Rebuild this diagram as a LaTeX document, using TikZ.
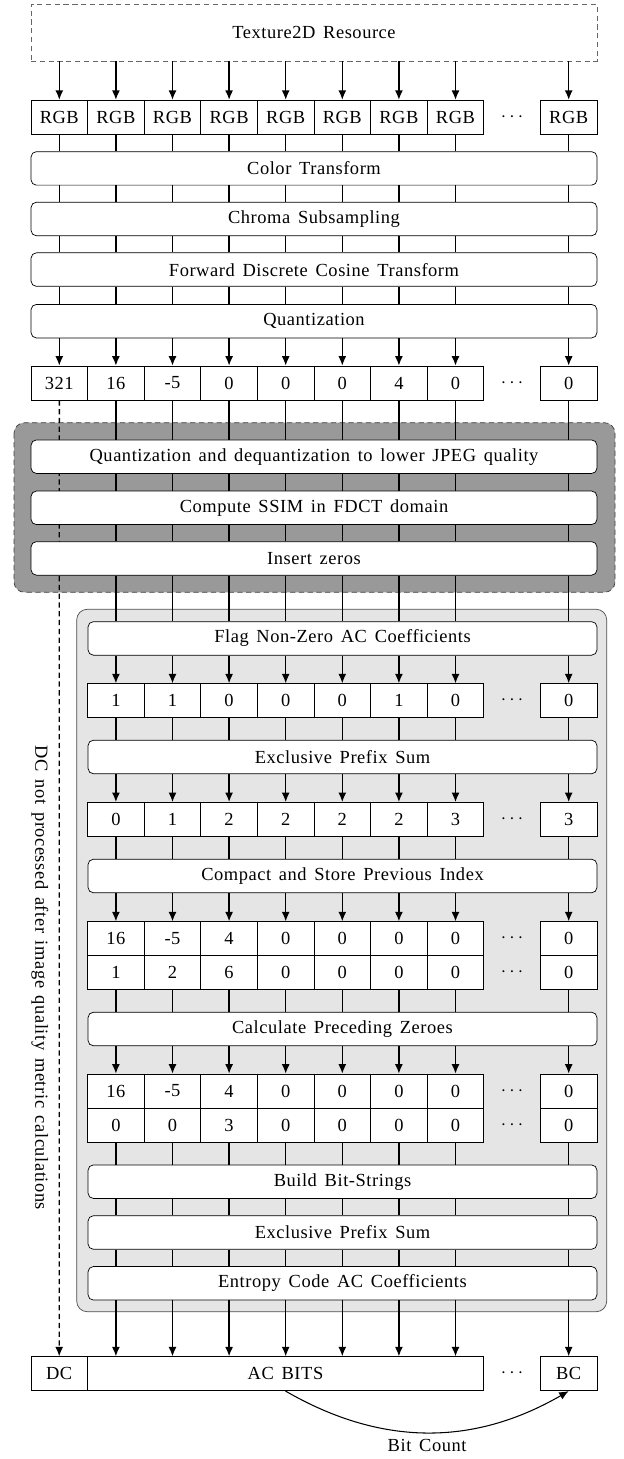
\documentclass[tikz,border=0pt]{standalone}
\usepackage{fontspec}
\setmainfont{Liberation Serif}[LetterSpace=3, WordSpace=1.5]
\usetikzlibrary{arrows.meta,backgrounds}

\begin{document}
\begin{tikzpicture}[x=0.02cm, y=-0.02cm, font=\fontsize{10.5}{12.6}\selectfont,
    cell/.style={draw, fill=white, minimum width=1.132cm, minimum height=0.68cm, inner sep=0pt},
    stage/.style={draw, fill=white, rounded corners=3pt, minimum height=0.67cm, inner sep=0pt},
    wide/.style={stage, minimum width=11.32cm},
    inner/.style={stage, minimum width=10.18cm},
    wire/.style={thick},
    flow/.style={thick, -{Latex[length=1.9mm, width=1.6mm]}}]
  \useasboundingbox (0,0) rectangle (623,1459);

  % source and first cells
  \node[draw=black!60, dash pattern=on 3pt off 2pt, minimum width=11.32cm, minimum height=1.134cm] (tex) at (314,32.7) {Texture2D Resource};
  \foreach \v [count=\i from 0] in {RGB,RGB,RGB,RGB,RGB,RGB,RGB,RGB}
    \node[cell] (rgb\i) at ({31+56.6*(\i+.5)},117.2) {\v};
  \node (rgbdots) at (512,117.2) {$\cdots$};
  \node[cell] (rgb9) at (568.7,117.2) {RGB};

  \node[wide] (colortf) at (314,168.4) {Color Transform};
  \node[wide] (chroma) at (314,219) {Chroma Subsampling};
  \node[wide] (fdct) at (314,269.6) {Forward Discrete Cosine Transform};
  \node[wide] (quant) at (314,321.2) {Quantization};

  \foreach \v [count=\i from 0] in {321,16,-5,0,0,0,4,0}
    \node[cell] (val\i) at ({31+56.6*(\i+.5)},383) {\v};
  \node (valdots) at (512,383) {$\cdots$};
  \node[cell] (val9) at (568.7,383) {0};

  % image quality part
  \node[wide] (qdq) at (314,456.7) {Quantization and dequantization to lower JPEG quality};
  \node[wide] (ssim) at (314,507.8) {Compute SSIM in FDCT domain};
  \node[wide] (zeros) at (314,558.4) {Insert zeros};

  % AC coding part
  \node[inner] (flagnz) at (342.5,638.4) {Flag Non-Zero AC Coefficients};
  \foreach \v [count=\i] in {1,1,0,0,0,1,0}
    \node[cell] (flag\i) at ({31+56.6*(\i+.5)},700.7) {\v};
  \node (flagdots) at (512,700.7) {$\cdots$};
  \node[cell] (flag9) at (568.7,700.7) {0};

  \node[inner] (prefix) at (342.5,757) {Exclusive Prefix Sum};
  \foreach \v [count=\i] in {0,1,2,2,2,2,3}
    \node[cell] (psum\i) at ({31+56.6*(\i+.5)},819.4) {\v};
  \node (psumdots) at (512,819.4) {$\cdots$};
  \node[cell] (psum9) at (568.7,819.4) {3};

  \node[inner] (compact) at (342.5,876) {Compact and Store Previous Index};
  \foreach \v [count=\i] in {16,-5,4,0,0,0,0}
    \node[cell] (cmpa\i) at ({31+56.6*(\i+.5)},938.7) {\v};
  \foreach \v [count=\i] in {1,2,6,0,0,0,0}
    \node[cell] (cmpb\i) at ({31+56.6*(\i+.5)},972.7) {\v};
  \node (cmpadots) at (512,938.7) {$\cdots$};
  \node (cmpbdots) at (512,972.7) {$\cdots$};
  \node[cell] (cmpa9) at (568.7,938.7) {0};
  \node[cell] (cmpb9) at (568.7,972.7) {0};

  \node[inner] (preczero) at (342.5,1029) {Calculate Preceding Zeroes};
  \foreach \v [count=\i] in {16,-5,4,0,0,0,0}
    \node[cell] (zera\i) at ({31+56.6*(\i+.5)},1091) {\v};
  \foreach \v [count=\i] in {0,0,3,0,0,0,0}
    \node[cell] (zerb\i) at ({31+56.6*(\i+.5)},1125) {\v};
  \node (zeradots) at (512,1091) {$\cdots$};
  \node (zerbdots) at (512,1125) {$\cdots$};
  \node[cell] (zera9) at (568.7,1091) {0};
  \node[cell] (zerb9) at (568.7,1125) {0};

  \node[inner] (bitstr) at (342.5,1181.7) {Build Bit-Strings};
  \node[inner] (prefixb) at (342.5,1232.5) {Exclusive Prefix Sum};
  \node[inner] (entropy) at (342.5,1283.3) {Entropy Code AC Coefficients};

  % output
  \node[cell] (dc) at (59.2,1373.7) {DC};
  \node[cell, minimum width=7.93cm] (acbits) at (285.5,1373.7) {AC BITS};
  \node (outdots) at (512,1373.7) {$\cdots$};
  \node[cell] (bc) at (568.7,1373.7) {BC};

  \node[rotate=-90] (dcnote) at (40,978) {DC not processed after image quality metric calculations};

  % connectors
  \foreach \i in {0,...,7,9} {
    \draw[flow] (tex.south -| rgb\i) -- (rgb\i);
    \draw[wire] (rgb\i) -- (colortf.north -| rgb\i);
    \draw[flow] (quant.south -| val\i) -- (val\i);
  }
  \foreach \src/\dst in {colortf/chroma, chroma/fdct, fdct/quant}
    \foreach \i in {0,...,7,9}
      \draw[wire] (\src.south -| rgb\i) -- (\dst.north -| rgb\i);
  \foreach \i in {1,...,7,9}
    \draw[wire] (val\i) -- (qdq.north -| val\i);
  \foreach \src/\dst in {qdq/ssim, ssim/zeros, zeros/flagnz, bitstr/prefixb, prefixb/entropy}
    \foreach \i in {1,...,7,9}
      \draw[wire] (\src.south -| rgb\i) -- (\dst.north -| rgb\i);
  \foreach \src/\dst in {flag/prefix, psum/compact, cmpb/preczero, zerb/bitstr}
    \foreach \i in {1,...,7,9}
      \draw[wire] (\src\i) -- (\dst.north -| \src\i);
  \foreach \src/\dst in {flagnz/flag, prefix/psum, compact/cmpa, preczero/zera}
    \foreach \i in {1,...,7,9}
      \draw[flow] (\src.south -| \dst\i) -- (\dst\i);
  \foreach \i in {1,...,7}
    \draw[flow] (entropy.south -| rgb\i) -- (acbits.north -| rgb\i);
  \draw[flow] (entropy.south -| bc) -- (bc);
  \draw[semithick, -{Latex[length=1.9mm, width=1.6mm]}] (acbits.south) to[bend right] node[below] (bitcount) {Bit Count} (bc.south);

  \begin{scope}[on background layer]
    \draw[black!75, dash pattern=on 3pt off 2pt, fill=black!40, rounded corners=6pt] (14,422.7) rectangle (615,592.3);
    \draw[black!70, fill=black!10, rounded corners=6pt] (76.7,609.3) rectangle (606.7,1311.7);
    \draw[thick, dash pattern=on 3pt off 2pt, -{Latex[length=1.9mm, width=1.6mm]}] (val0) -- (dc);
  \end{scope}
\end{tikzpicture}
\end{document}
